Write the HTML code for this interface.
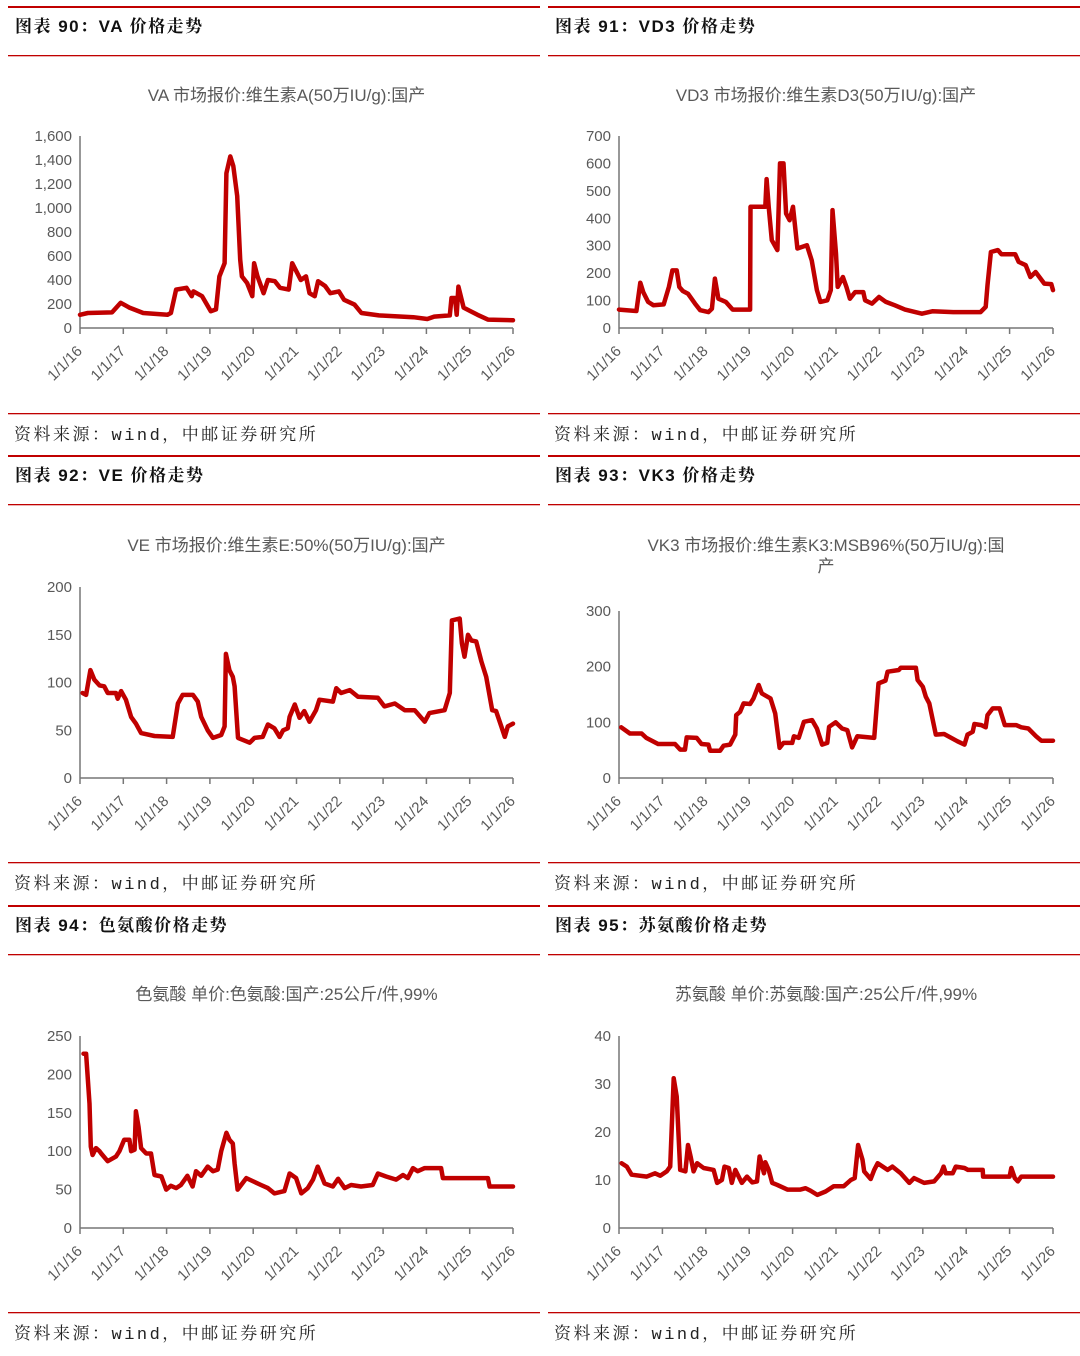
<!DOCTYPE html>
<html><head><meta charset="utf-8"><style>
html,body{margin:0;padding:0;background:#fff;}
svg{display:block;font-family:"Liberation Sans","Noto Sans CJK SC",sans-serif;}
.hdr{font-family:"Liberation Sans","Noto Serif CJK SC","Noto Sans CJK SC",sans-serif;font-weight:bold;font-size:17px;fill:#111;letter-spacing:1.5px}
.src{font-family:"Liberation Mono","Noto Serif CJK SC","Noto Sans CJK SC",monospace;font-size:17px;fill:#222;letter-spacing:2.5px}
.ttl{font-size:17px;fill:#595959}
.tick{font-size:15px;fill:#595959}
</style></head><body>
<svg id="page" width="1080" height="1356" viewBox="0 0 1080 1356"></svg>
<script>
// ---- data (t = years since 1/1/2016) ----
const xLabels = ["1/1/16","1/1/17","1/1/18","1/1/19","1/1/20","1/1/21","1/1/22","1/1/23","1/1/24","1/1/25","1/1/26"];
const vaT = [0,0.18,0.74,0.94,1.14,1.46,2.02,2.1,2.22,2.46,2.58,2.62,2.82,3.02,3.14,3.22,3.34,3.38,3.47,3.54,3.63,3.70,3.74,3.86,3.98,4.02,4.10,4.24,4.34,4.50,4.62,4.82,4.90,4.98,5.10,5.22,5.30,5.42,5.50,5.66,5.78,5.98,6.10,6.34,6.50,6.90,7.70,8.02,8.18,8.54,8.58,8.66,8.70,8.74,8.86,9.02,9.18,9.42,10];
const vaV = [110,125,130,210,170,125,110,125,320,335,265,305,265,140,155,430,540,1290,1430,1350,1100,570,430,375,265,540,430,290,400,390,335,320,540,485,400,430,290,265,390,350,290,305,235,195,125,105,90,75,95,105,250,250,110,345,170,140,110,70,65];
const vdT = [0,0.4,0.49,0.56,0.67,0.79,1.03,1.15,1.23,1.33,1.39,1.47,1.59,1.75,1.87,2.06,2.14,2.21,2.29,2.46,2.62,3.02,3.03,3.37,3.40,3.45,3.52,3.65,3.71,3.79,3.85,3.93,4.01,4.11,4.33,4.44,4.56,4.64,4.80,4.88,4.92,5.0,5.04,5.16,5.24,5.32,5.44,5.63,5.67,5.83,5.99,6.15,6.35,6.59,6.98,7.22,7.70,8.33,8.45,8.49,8.57,8.73,8.81,9.13,9.21,9.37,9.48,9.60,9.80,9.96,10];
const vdV = [67,62,165,130,95,83,86,150,210,210,150,135,125,89,65,58,70,180,107,95,67,67,442,442,543,442,320,284,600,600,417,393,442,290,302,247,138,95,101,138,430,271,150,186,150,107,131,131,101,89,113,95,83,67,52,61,58,58,77,156,277,284,269,269,241,229,186,204,162,160,138];
const veT = [0.06,0.14,0.24,0.33,0.45,0.56,0.64,0.83,0.87,0.95,1.06,1.18,1.29,1.41,1.72,2.14,2.26,2.37,2.61,2.72,2.80,2.95,3.07,3.26,3.34,3.37,3.45,3.53,3.57,3.65,3.92,4.03,4.22,4.34,4.49,4.61,4.69,4.80,4.84,4.96,5.07,5.18,5.30,5.45,5.53,5.84,5.92,6.03,6.23,6.42,6.88,7.03,7.27,7.50,7.73,7.96,8.07,8.42,8.54,8.59,8.77,8.82,8.88,8.96,9.04,9.15,9.27,9.38,9.52,9.61,9.73,9.81,9.88,10];
const veV = [89,87,113,103,97,96,89,89,83,91,82,64,57,47,44,43,78,87,87,80,64,50,42,45,54,130,113,106,96,42,37,42,43,56,52,43,50,52,64,77,63,70,59,71,82,80,94,89,92,85,84,75,78,71,71,59,68,71,89,165,167,141,127,150,144,143,122,106,71,70,54,43,54,57];
const vkT = [0.05,0.25,0.52,0.63,0.90,1.29,1.41,1.52,1.56,1.79,1.90,2.06,2.10,2.33,2.41,2.56,2.68,2.70,2.79,2.87,3.02,3.10,3.22,3.29,3.49,3.60,3.70,3.79,3.99,4.03,4.14,4.26,4.45,4.56,4.68,4.80,4.84,4.99,5.14,5.26,5.37,5.49,5.88,5.98,6.14,6.19,6.45,6.49,6.84,6.88,7.00,7.07,7.15,7.30,7.49,7.80,7.96,8.03,8.15,8.19,8.35,8.45,8.49,8.61,8.77,8.89,9.15,9.27,9.43,9.61,9.73,10];
const vkV = [91,80,80,72,61,61,51,51,73,72,61,60,49,49,58,60,78,113,119,134,133,143,167,152,143,116,54,63,63,75,72,101,104,89,60,63,92,100,89,86,55,75,72,170,175,191,194,198,198,176,164,146,134,78,79,66,60,78,83,97,95,91,113,125,125,95,95,91,89,75,67,67];
const trpT = [0.08,0.14,0.22,0.25,0.29,0.37,0.45,0.49,0.64,0.83,0.91,1.02,1.14,1.18,1.26,1.29,1.35,1.41,1.53,1.64,1.72,1.88,1.99,2.10,2.22,2.33,2.48,2.60,2.68,2.80,2.95,3.07,3.18,3.26,3.38,3.45,3.53,3.57,3.64,3.84,4.18,4.34,4.49,4.72,4.84,4.99,5.11,5.26,5.38,5.49,5.65,5.84,5.96,6.11,6.26,6.49,6.76,6.88,7.07,7.30,7.46,7.57,7.69,7.80,7.96,8.34,8.38,9.42,9.46,10];
const trpV = [227,227,162,106,95,104,100,97,87,93,100,115,115,100,102,152,132,104,97,97,69,67,50,55,52,56,68,54,74,68,80,74,76,100,124,115,110,84,50,65,56,52,45,48,71,65,45,52,63,80,58,54,64,52,56,54,56,71,67,63,69,65,78,74,78,78,65,65,54,54];
const thrT = [0.06,0.18,0.29,0.64,0.83,0.95,1.10,1.18,1.26,1.33,1.41,1.53,1.59,1.65,1.72,1.80,1.95,2.18,2.26,2.37,2.43,2.53,2.60,2.68,2.83,2.95,3.07,3.18,3.24,3.34,3.37,3.45,3.53,3.64,3.88,4.18,4.30,4.41,4.57,4.76,4.95,5.18,5.34,5.43,5.51,5.61,5.65,5.80,5.88,5.96,6.19,6.30,6.49,6.69,6.80,7.03,7.26,7.42,7.48,7.53,7.69,7.76,7.96,8.04,8.38,8.39,9.00,9.04,9.12,9.19,9.27,10];
const thrV = [13.5,12.8,11.1,10.7,11.4,10.9,11.8,12.8,31.2,27.4,12.1,11.8,17.3,14.9,11.8,13.5,12.5,12.1,9.4,10.0,12.8,12.5,9.4,12.1,9.4,10.7,9.5,9.7,14.9,11.4,13.7,12.1,9.4,9.0,8.0,8.0,8.3,7.8,6.9,7.6,8.7,8.7,10.0,10.4,17.3,14.2,11.8,10.2,12.1,13.5,12.1,12.8,11.4,9.4,10.4,9.4,9.7,11.4,12.8,11.4,11.4,12.8,12.5,12.1,12.1,10.7,10.7,12.5,10.4,9.7,10.7,10.7];
const vaTicks=[0,200,400,600,800,1000,1200,1400,1600];
const vdTicks=[0,100,200,300,400,500,600,700];
const veTicks=[0,50,100,150,200];
const vkTicks=[0,100,200,300];
const trpTicks=[0,50,100,150,200,250];
const thrTicks=[0,10,20,30,40];

const NS="http://www.w3.org/2000/svg";
const svg=document.getElementById('page');
function mk(tag,attrs,parent,text){const e=document.createElementNS(NS,tag);for(const k in attrs)e.setAttribute(k,attrs[k]);if(text!==undefined)e.textContent=text;(parent||svg).appendChild(e);return e;}

function panel(cfg){
  const g=mk('g',{});
  
  
  const L=cfg.left, T=cfg.top;
  let e=mk('rect',{x:L,y:T,width:532,height:2,fill:'#c00000'},g);
  
  e=mk('text',{x:L+7,y:T+26,class:'hdr'},g,cfg.header);
  
  e=mk('rect',{x:L,y:T+49,width:532,height:1.3,fill:'#c00000'},g);
  
  const tl=cfg.title.split('\n');
  tl.forEach((s,i)=>{const t=mk('text',{x:(cfg.x0+cfg.x1)/2-10,y:cfg.titleY+i*21,class:'ttl','text-anchor':'middle'},g,s);
    });
  e=mk('rect',{x:L,y:T+407,width:532,height:1.3,fill:'#c00000'},g);
  
  e=mk('text',{x:L+6,y:T+434,class:'src'},g,'资料来源：wind，中邮证券研究所');
  

  const x=t=>cfg.x0+(cfg.x1-cfg.x0)*t/10;
  const y=v=>cfg.yb-(cfg.yb-cfg.yt)*v/cfg.max;
  e=mk('line',{x1:cfg.x0,y1:cfg.yt,x2:cfg.x0,y2:cfg.yb,stroke:'#777','stroke-width':1.5},g);
  
  cfg.ticks.forEach(v=>{const t=mk('text',{x:cfg.x0-8,y:y(v)+5,class:'tick','text-anchor':'end'},g,cfg.fmt?v.toLocaleString('en-US'):String(v));
    });
  e=mk('line',{x1:cfg.x0,y1:cfg.yb,x2:cfg.x1,y2:cfg.yb,stroke:'#777','stroke-width':1.5},g);
  
  xLabels.forEach((s,i)=>{
    const xx=x(i);
    const tk=mk('line',{x1:xx,y1:cfg.yb,x2:xx,y2:cfg.yb+6,stroke:'#777','stroke-width':1.5},g);
    
    const ax=xx+3, ay=cfg.yb+24;
    const t=mk('text',{x:ax,y:ay,class:'tick','text-anchor':'end',transform:`rotate(-45 ${ax} ${ay})`},g,s);
    
  });
  const pts=cfg.T.map((t,i)=>x(t).toFixed(1)+','+y(cfg.V[i]).toFixed(1)).join(' ');
  const pl=mk('polyline',{points:pts,fill:'none',stroke:'#c00000','stroke-width':4.5,'stroke-linejoin':'round','stroke-linecap':'round'},g);
  
  
}
const LX0=80,LX1=513,RX0=619,RX1=1053;
panel({name:'chart-va',left:8,top:6,header:'图表 90：VA 价格走势',title:'VA 市场报价:维生素A(50万IU/g):国产',titleY:101,x0:LX0,x1:LX1,yt:136,yb:328,max:1600,ticks:vaTicks,fmt:true,T:vaT,V:vaV});
panel({name:'chart-vd3',left:548,top:6,header:'图表 91：VD3 价格走势',title:'VD3 市场报价:维生素D3(50万IU/g):国产',titleY:101,x0:RX0,x1:RX1,yt:136,yb:328,max:700,ticks:vdTicks,T:vdT,V:vdV});
panel({name:'chart-ve',left:8,top:455,header:'图表 92：VE 价格走势',title:'VE 市场报价:维生素E:50%(50万IU/g):国产',titleY:551,x0:LX0,x1:LX1,yt:587,yb:778,max:200,ticks:veTicks,T:veT,V:veV});
panel({name:'chart-vk3',left:548,top:455,header:'图表 93：VK3 价格走势',title:'VK3 市场报价:维生素K3:MSB96%(50万IU/g):国\n产',titleY:551,x0:RX0,x1:RX1,yt:611,yb:778,max:300,ticks:vkTicks,T:vkT,V:vkV});
panel({name:'chart-tryptophan',left:8,top:905,header:'图表 94：色氨酸价格走势',title:'色氨酸 单价:色氨酸:国产:25公斤/件,99%',titleY:1000,x0:LX0,x1:LX1,yt:1036,yb:1228,max:250,ticks:trpTicks,T:trpT,V:trpV});
panel({name:'chart-threonine',left:548,top:905,header:'图表 95：苏氨酸价格走势',title:'苏氨酸 单价:苏氨酸:国产:25公斤/件,99%',titleY:1000,x0:RX0,x1:RX1,yt:1036,yb:1228,max:40,ticks:thrTicks,T:thrT,V:thrV});
</script>
</body></html>
